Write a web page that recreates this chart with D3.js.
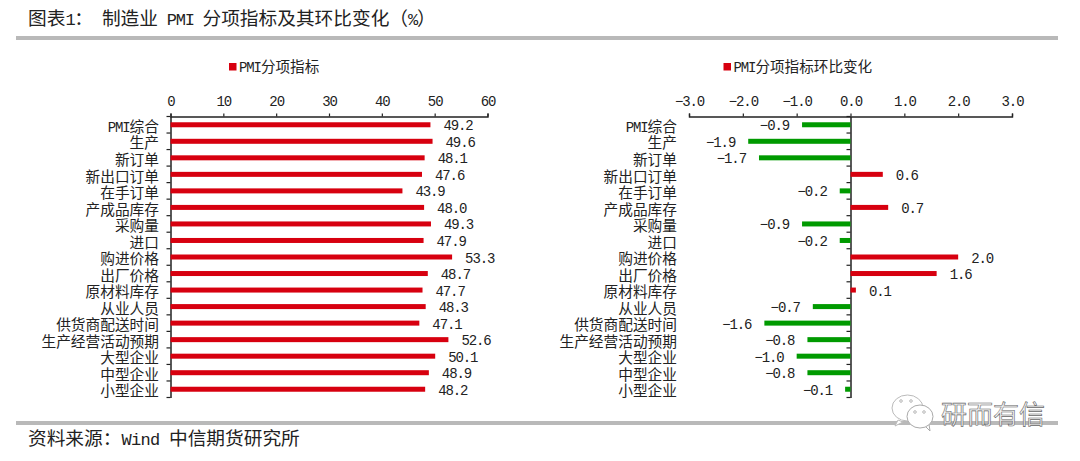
<!DOCTYPE html>
<html><head><meta charset="utf-8">
<script src="https://cdn.jsdelivr.net/npm/d3@7"></script>
<style>
html,body{margin:0;padding:0;background:#fff;overflow:hidden}
text{font-family:"Liberation Mono","Noto Sans CJK SC",sans-serif;fill:#222}
</style></head><body><svg id="c" width="1080" height="461"></svg>
<script>
const categories=["PMI综合","生产","新订单","新出口订单","在手订单","产成品库存","采购量","进口","购进价格","出厂价格","原材料库存","从业人员","供货商配送时间","生产经营活动预期","大型企业","中型企业","小型企业"];
const pmiValues=[49.2,49.6,48.1,47.6,43.9,48.0,49.3,47.9,53.3,48.7,47.7,48.3,47.1,52.6,50.1,48.9,48.2];
const changeValues=[-0.9,-1.9,-1.7,0.6,-0.2,0.7,-0.9,-0.2,2.0,1.6,0.1,-0.7,-1.6,-0.8,-1.0,-0.8,-0.1];
const leftTicks=[0,10,20,30,40,50,60];
const rightTicks=[-3,-2,-1,0,1,2,3];
const titleText="图表1： 制造业 PMI 分项指标及其环比变化（%）";
const sourceText="资料来源：Wind 中信期货研究所";
const legendLeft="PMI分项指标";
const legendRight="PMI分项指标环比变化";
const watermark="研而有信";

const RED="#d7000f",GREEN="#009a00",INK="#222";
const svg=d3.select("#c");
const axisY=116.5,axisEnd=397.5;
const y=d3.scaleBand().domain(categories).range([axisY,axisEnd]);
const barH=5;

// Latin runs are tall and narrow beside the CJK glyphs, as in the reference.
function mixed(sel,cjkSize,latinSize,latinSpacing){
  sel.each(function(){
    const t=d3.select(this),s=t.text();
    t.text(null).attr("font-size",cjkSize);
    (s.match(/[\x20-\x7e]+|[^\x20-\x7e]+/g)||[]).forEach(run=>{
      const latin=/^[\x20-\x7e]/.test(run);
      t.append("tspan").attr("font-size",latin?latinSize:cjkSize)
        .style("letter-spacing",latin?latinSpacing+"px":"0px")
        .attr("xml:space","preserve").text(run);
    });
  });
}
function numeric(sel){sel.attr("font-size",14).style("letter-spacing","-1.1px");}

svg.append("text").attr("x",28).attr("y",25).text(titleText).call(mixed,18.7,17,-1.3);
svg.append("rect").attr("x",16).attr("y",36).attr("width",1042).attr("height",4).attr("fill","#b9b9b9");
svg.append("rect").attr("x",16).attr("y",421).attr("width",1042).attr("height",4).attr("fill","#b9b9b9");
svg.append("text").attr("x",28).attr("y",444.5).text(sourceText).call(mixed,18.7,17,-0.7);

function panel(values,x,ticks,fmt,legend,legendX,zeroX){
  const g=svg.append("g");
  g.append("rect").attr("x",legendX).attr("y",63).attr("width",7.5).attr("height",7.5).attr("fill",RED);
  g.append("text").attr("x",legendX+10).attr("y",71.5).text(legend).call(mixed,14.6,14,-1.1);
  const ax=g.append("g").attr("transform",`translate(0,${axisY})`)
    .call(d3.axisTop(x).tickValues(ticks).tickFormat(fmt).tickSize(3).tickPadding(8));
  ax.selectAll("path").attr("stroke",INK).attr("stroke-width",1.4);
  ax.selectAll("line").attr("stroke",INK).attr("stroke-width",1.2);
  ax.selectAll("text").style("fill",INK).call(numeric);
  const ay=g.append("g").attr("transform",`translate(${zeroX},0)`)
    .call(d3.axisLeft(y).tickSize(0).tickFormat(""));
  ay.selectAll("path").attr("stroke",INK).attr("stroke-width",1.5);
  g.append("g").selectAll("line").data(d3.range(0,categories.length+1)).join("line")
    .attr("x1",zeroX-4).attr("x2",zeroX)
    .attr("y1",i=>axisY+i*y.step()).attr("y2",i=>axisY+i*y.step())
    .attr("stroke",INK).attr("stroke-width",1.2);
  const labelX=x.domain()[0]<0?x(-3)-12:zeroX-11.5;
  g.append("g").selectAll("text").data(categories).join("text")
    .attr("x",labelX).attr("y",c=>y(c)+y.bandwidth()/2+7.2).attr("text-anchor","end")
    .text(c=>c).call(mixed,14.7,14,-1.1);
  g.append("g").selectAll("rect").data(values).join("rect")
    .attr("x",d=>Math.min(x(0),x(d))).attr("y",(d,i)=>y(categories[i])+y.bandwidth()/2-barH/2)
    .attr("width",d=>Math.abs(x(d)-x(0))).attr("height",barH)
    .attr("fill",d=>d<0?GREEN:RED);
  g.append("g").selectAll("text").data(values).join("text")
    .attr("x",d=>d<0?x(d)-13:x(d)+13)
    .attr("y",(d,i)=>y(categories[i])+y.bandwidth()/2+5.5)
    .attr("text-anchor",d=>d<0?"end":"start")
    .text(d=>d.toFixed(1).replace("-","−")).call(numeric);
}
const xL=d3.scaleLinear().domain([0,60]).range([170.5,487.5]);
const xR=d3.scaleLinear().domain([-3,3]).range([689,1012]);
panel(pmiValues,xL,leftTicks,d3.format("d"),legendLeft,229,xL(0));
panel(changeValues,xR,rightTicks,d=>d.toFixed(1).replace("-","−"),legendRight,723.5,xR(0));

// watermark: two chat bubbles and outlined text
const w=svg.append("g");
w.append("path").attr("d","M898 420 L895 426 L903 422 Z").attr("fill","#fff").attr("stroke","#bbb");
w.append("ellipse").attr("cx",907.5).attr("cy",408).attr("rx",15.5).attr("ry",13)
  .attr("fill","#fff").attr("stroke","#bbb").attr("stroke-width",1);
w.append("path").attr("d","M925 426 L930 431 L929 424 Z").attr("fill","#fff").attr("stroke","#aaa");
w.append("ellipse").attr("cx",920).attr("cy",416.5).attr("rx",13).attr("ry",11.5)
  .attr("fill","#fff").attr("stroke","#aaa").attr("stroke-width",1);
[[901,401],[911,401],[915,412],[924,412]].forEach(([cx,cy])=>{
  w.append("circle").attr("cx",cx).attr("cy",cy).attr("r",1.3).attr("fill","none").attr("stroke","#999").attr("stroke-width",0.7);
});
w.append("text").attr("x",941).attr("y",424).attr("font-size",26)
  .style("fill","#f4f4f4").attr("stroke","#666").attr("stroke-width",0.6).text(watermark);
</script></body></html>
